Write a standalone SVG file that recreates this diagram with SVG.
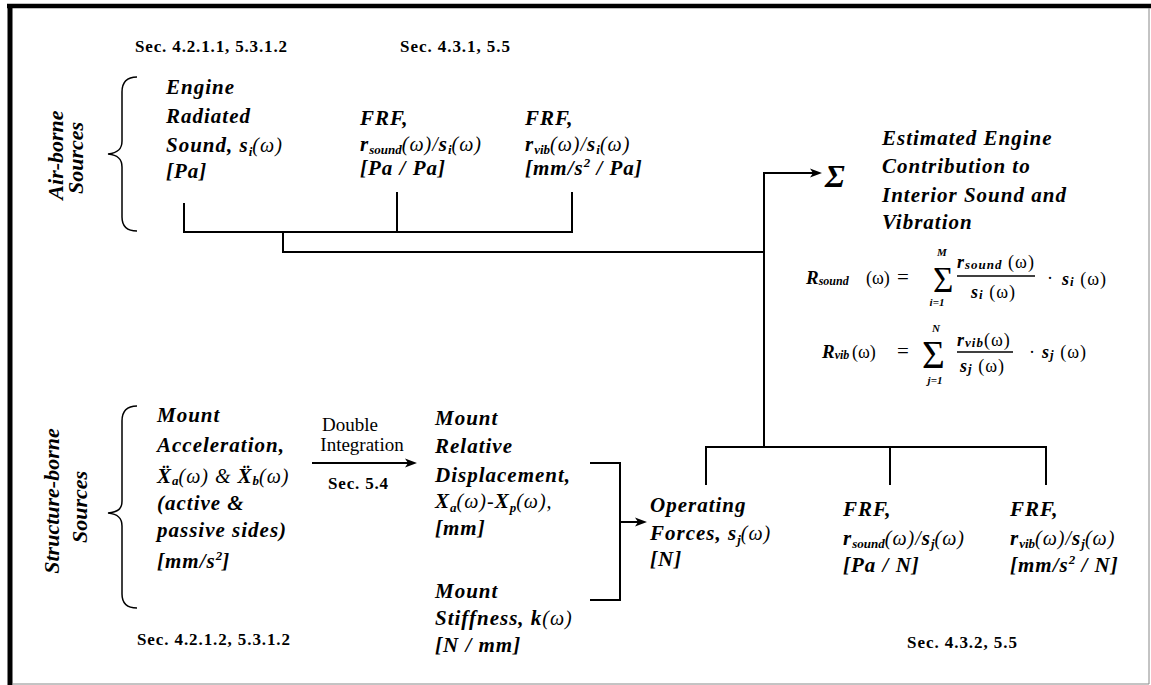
<svg xmlns="http://www.w3.org/2000/svg" width="1151" height="685" viewBox="0 0 1151 685">
<style>
.it{font-family:"Liberation Serif","Times New Roman",serif;font-style:italic;font-weight:bold;font-size:21px;letter-spacing:1px;fill:#000}
.sb{font-size:13px;letter-spacing:0}
.om{font-weight:normal;font-size:20px}
.sec{font-family:"Liberation Serif","Times New Roman",serif;font-weight:bold;font-size:17px;fill:#000}
.rg{font-family:"Liberation Serif","Times New Roman",serif;font-size:19px;fill:#000}
.rot{font-family:"Liberation Serif","Times New Roman",serif;font-style:italic;font-weight:bold;font-size:22px;fill:#000}
.fm{font-family:"Liberation Serif","Times New Roman",serif;font-style:italic;font-weight:bold;font-size:19px;fill:#000}
.fr{font-family:"Liberation Serif","Times New Roman",serif;font-size:18px;fill:#000}
.fl{letter-spacing:1px}
.fs{font-size:12px}
.f18{font-size:18px}
.f13{font-size:13px}
.f11{font-size:11px}
.f21{font-size:21px}
.f28{font-size:28px}
.ln{stroke:#000;stroke-width:2;fill:none}
.br{stroke:#000;stroke-width:1.5;fill:none}
.bar{stroke:#000;stroke-width:1.3}
</style>
<defs>
<marker id="ah" markerWidth="12" markerHeight="10" refX="9" refY="5" orient="auto" markerUnits="userSpaceOnUse">
<path d="M0,0.5 L12,5 L0,9.5 L3,5 z" fill="#000"/>
</marker>
</defs>
<rect width="1151" height="685" fill="#fff"/>
<g id="frame">
<line x1="7" y1="6" x2="1151" y2="6" stroke="#000" stroke-width="4.5"/>
<line x1="10" y1="4" x2="10" y2="685" stroke="#000" stroke-width="5"/>
<line x1="1149" y1="8" x2="1149" y2="684" stroke="#888" stroke-width="1"/>
<line x1="12" y1="684" x2="1149" y2="684" stroke="#888" stroke-width="1"/>
</g>

<g id="sec-labels">
<text class="sec" x="135" y="52" textLength="152">Sec. 4.2.1.1, 5.3.1.2</text>
<text class="sec" x="400" y="52" textLength="110">Sec. 4.3.1, 5.5</text>
<text class="sec" x="137" y="645" textLength="153">Sec. 4.2.1.2, 5.3.1.2</text>
<text class="sec" x="907" y="648" textLength="110">Sec. 4.3.2, 5.5</text>
</g>

<g id="airborne-group">
<text class="rot" transform="translate(63,155) rotate(-90)" text-anchor="middle">Air-borne</text>
<text class="rot" transform="translate(83,158) rotate(-90)" text-anchor="middle">Sources</text>
<path class="br" d="M137,77 C126,77 122,83 122,92 L122,141 C122,149 118,153 108,154 C118,155 122,159 122,167 L122,217 C122,226 126,231 137,231"/>
</g>

<g id="structure-group">
<text class="rot" transform="translate(59,501) rotate(-90)" text-anchor="middle">Structure-borne</text>
<text class="rot" transform="translate(87,507) rotate(-90)" text-anchor="middle">Sources</text>
<path class="br" d="M137,406 C126,406 122,412 122,421 L122,501 C122,509 118,512 108,513 C118,514 122,518 122,526 L122,594 C122,603 126,608 137,608"/>
</g>

<g id="engine-sound">
<text class="it" x="166" y="94">Engine</text>
<text class="it" x="166" y="123">Radiated</text>
<text class="it" x="166" y="152">Sound, s<tspan class="sb" dy="4">i</tspan><tspan class="om" dy="-4">(ω)</tspan></text>
<text class="it" x="166" y="178">[Pa]</text>
</g>

<g id="frf-air-sound">
<text class="it" x="360" y="125">FRF,</text>
<text class="it" x="360" y="151">r<tspan class="sb" dy="3">sound</tspan><tspan class="om" dy="-3">(ω)/</tspan>s<tspan class="sb" dy="3">i</tspan><tspan class="om" dy="-3">(ω)</tspan></text>
<text class="it" x="360" y="175">[Pa / Pa]</text>
</g>

<g id="frf-air-vib">
<text class="it" x="525" y="125">FRF,</text>
<text class="it" x="525" y="151">r<tspan class="sb" dy="3">vib</tspan><tspan class="om" dy="-3">(ω)/</tspan>s<tspan class="sb" dy="3">i</tspan><tspan class="om" dy="-3">(ω)</tspan></text>
<text class="it" x="525" y="175">[mm/s<tspan class="sb" dy="-8">2</tspan><tspan dy="8"> / Pa]</tspan></text>
</g>

<g id="sum">
<text x="825" y="187" font-family="Liberation Serif, serif" font-style="italic" font-weight="bold" font-size="32">Σ</text>
</g>

<g id="result">
<text class="it" x="882" y="145">Estimated Engine</text>
<text class="it" x="882" y="173">Contribution to</text>
<text class="it" x="882" y="202">Interior Sound and</text>
<text class="it" x="882" y="229">Vibration</text>
</g>

<g id="formula-sound">
<text class="fm" x="806" y="284">R<tspan class="fs" dy="1">sound</tspan></text>
<text class="fr" x="866" y="284">(ω)</text>
<text class="fr f21" x="897" y="284">=</text>
<text class="fr f28" transform="translate(933,292) scale(1.25,1.25)">Σ</text>
<text class="fm f11" x="942" y="256" text-anchor="middle">M</text>
<text class="fm f11" x="937" y="306" text-anchor="middle">i=1</text>
<text class="fl" x="957" y="268"><tspan class="fm f18">r</tspan><tspan class="fm f13" dy="1">sound</tspan><tspan class="fr f18" dy="-1"> (ω)</tspan></text>
<line class="bar" x1="957" y1="276" x2="1035" y2="276"/>
<text class="fl" x="971" y="298"><tspan class="fm f18">s</tspan><tspan class="fm f13" dy="1">i</tspan><tspan class="fr f18" dy="-1"> (ω)</tspan></text>
<text class="fr" x="1047" y="284">·</text>
<text class="fl" x="1062" y="285"><tspan class="fm f18">s</tspan><tspan class="fm f13" dy="1">i</tspan><tspan class="fr f18" dy="-1"> (ω)</tspan></text>
</g>

<g id="formula-vib">
<text class="fm" x="822" y="358">R<tspan class="fs" dy="1">vib</tspan></text>
<text class="fr" x="852" y="358">(ω)</text>
<text class="fr f21" x="897" y="358">=</text>
<text class="fr f28" transform="translate(922,368) scale(1.4,1.4)">Σ</text>
<text class="fm f11" x="936" y="332" text-anchor="middle">N</text>
<text class="fm f11" x="935" y="384" text-anchor="middle">j=1</text>
<text class="fl" x="957" y="346"><tspan class="fm f18">r</tspan><tspan class="fm f13" dy="1">vib</tspan><tspan class="fr f18" dy="-1">(ω)</tspan></text>
<line class="bar" x1="957" y1="352" x2="1013" y2="352"/>
<text class="fl" x="960" y="372"><tspan class="fm f18">s</tspan><tspan class="fm f13" dy="1">j</tspan><tspan class="fr f18" dy="-1"> (ω)</tspan></text>
<text class="fr" x="1029" y="358">·</text>
<text class="fl" x="1042" y="358"><tspan class="fm f18">s</tspan><tspan class="fm f13" dy="1">j</tspan><tspan class="fr f18" dy="-1"> (ω)</tspan></text>
</g>

<g id="mount-acceleration">
<text class="it" x="157" y="422">Mount</text>
<text class="it" x="157" y="452">Acceleration,</text>
<text class="it" x="157" y="483">X&#776;<tspan class="sb" dy="2">a</tspan><tspan class="om" dy="-2">(ω) &amp; </tspan>X&#776;<tspan class="sb" dy="2">b</tspan><tspan class="om" dy="-2">(ω)</tspan></text>
<text class="it" x="157" y="510">(active &amp;</text>
<text class="it" x="157" y="537">passive sides)</text>
<text class="it" x="157" y="568">[mm/s<tspan class="sb" dy="-8">2</tspan><tspan dy="8">]</tspan></text>
</g>

<g id="double-integration">
<text class="rg" x="350" y="431" text-anchor="middle">Double</text>
<text class="rg" x="362" y="451" text-anchor="middle">Integration</text>
<text class="sec" x="328" y="489" textLength="60">Sec. 5.4</text>
</g>

<g id="mount-displacement">
<text class="it" x="435" y="425">Mount</text>
<text class="it" x="435" y="453">Relative</text>
<text class="it" x="435" y="482">Displacement,</text>
<text class="it" x="435" y="508">X<tspan class="sb" dy="4">a</tspan><tspan class="om" dy="-4">(ω)-</tspan>X<tspan class="sb" dy="4">p</tspan><tspan class="om" dy="-4">(ω),</tspan></text>
<text class="it" x="435" y="535">[mm]</text>
</g>

<g id="mount-stiffness">
<text class="it" x="435" y="598">Mount</text>
<text class="it" x="435" y="625">Stiffness, k<tspan class="om">(ω)</tspan></text>
<text class="it" x="435" y="652">[N / mm]</text>
</g>

<g id="operating-forces">
<text class="it" x="650" y="512">Operating</text>
<text class="it" x="650" y="540">Forces, s<tspan class="sb" dy="4">j</tspan><tspan class="om" dy="-4">(ω)</tspan></text>
<text class="it" x="650" y="566">[N]</text>
</g>

<g id="frf-struct-sound">
<text class="it" x="843" y="516">FRF,</text>
<text class="it" x="843" y="545">r<tspan class="sb" dy="3">sound</tspan><tspan class="om" dy="-3">(ω)/</tspan>s<tspan class="sb" dy="3">j</tspan><tspan class="om" dy="-3">(ω)</tspan></text>
<text class="it" x="843" y="572">[Pa / N]</text>
</g>

<g id="frf-struct-vib">
<text class="it" x="1010" y="516">FRF,</text>
<text class="it" x="1010" y="545">r<tspan class="sb" dy="3">vib</tspan><tspan class="om" dy="-3">(ω)/</tspan>s<tspan class="sb" dy="3">j</tspan><tspan class="om" dy="-3">(ω)</tspan></text>
<text class="it" x="1010" y="572">[mm/s<tspan class="sb" dy="-8">2</tspan><tspan dy="8"> / N]</tspan></text>
</g>

<g id="connectors">
<path class="ln" d="M184,203 V232 H572 V192"/>
<path class="ln" d="M397,192 V232"/>
<path class="ln" d="M283,232 V252 H764"/>
<path class="ln" d="M764,447 V173 H819" marker-end="url(#ah)"/>
<path class="ln" d="M706,485 V447 H1046 V485"/>
<path class="ln" d="M890,447 V485"/>
<path class="ln" d="M590,463 H620 V600 H590"/>
<path class="ln" d="M620,522 H644" marker-end="url(#ah)"/>
<path class="ln" d="M312,463 H414" marker-end="url(#ah)"/>
</g>
</svg>
